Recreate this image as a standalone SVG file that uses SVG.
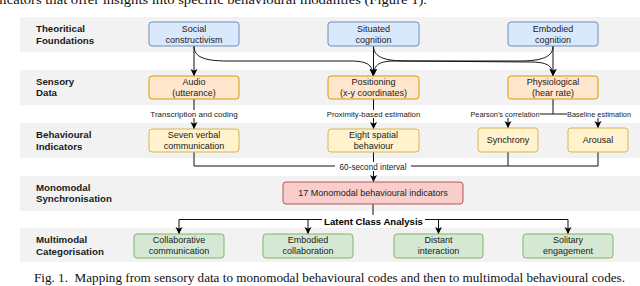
<svg xmlns="http://www.w3.org/2000/svg" width="640" height="286" viewBox="0 0 640 286">
<style>
.band{fill:#f2f2f2}
.rl{font-family:"Liberation Sans",Arial,sans-serif;font-size:9.7px;font-weight:bold;fill:#1a1a1a}
.nt{font-family:"Liberation Sans",Arial,sans-serif;font-size:9px;fill:#1a1a1a;text-anchor:middle}
.el{font-family:"Liberation Sans",Arial,sans-serif;font-size:7.8px;fill:#1a1a1a;text-anchor:middle}
.bl{font-family:"Liberation Sans",Arial,sans-serif;font-size:9.6px;font-weight:bold;fill:#000;text-anchor:middle}
.serif{font-family:"Liberation Serif","Times New Roman",serif;font-size:12.5px;fill:#111}
.blue{fill:#dae8fc;stroke:#6c8ebf;stroke-width:1}
.orange{fill:#ffe6cc;stroke:#d79b00;stroke-width:1}
.yellow{fill:#fff2cc;stroke:#d6b656;stroke-width:1}
.red{fill:#f8cecc;stroke:#b85450;stroke-width:1}
.green{fill:#d5e8d4;stroke:#82b366;stroke-width:1}
.c{fill:none;stroke:#111;stroke-width:1}
.lbg{fill:#ffffff}
</style>
<defs>
<marker id="arr" markerUnits="userSpaceOnUse" markerWidth="8" markerHeight="8" refX="7" refY="3.5" orient="auto">
<path d="M0,0 L7,3.5 L0,7 L1.8,3.5 z" fill="#000"/>
</marker>
</defs>
<rect width="640" height="286" fill="#ffffff"/>
<text class="serif" x="-16" y="3.5" textLength="443" lengthAdjust="spacingAndGlyphs">indicators that offer insights into specific behavioural modalities (Figure 1).</text>

<g id="bands">
<rect class="band" x="20" y="17" width="620" height="35"/>
<rect class="band" x="20" y="70" width="620" height="35"/>
<rect class="band" x="20" y="123" width="620" height="35"/>
<rect class="band" x="20" y="176" width="620" height="35"/>
<rect class="band" x="20" y="228" width="620" height="34"/>
</g>
<g id="row-labels">
<text class="rl" x="36" y="32.4">Theoritical</text><text class="rl" x="36" y="43.9">Foundations</text>
<text class="rl" x="36" y="84.5">Sensory</text><text class="rl" x="36" y="96">Data</text>
<text class="rl" x="36" y="138">Behavioural</text><text class="rl" x="36" y="149.5">Indicators</text>
<text class="rl" x="36" y="190.8">Monomodal</text><text class="rl" x="36" y="202.3">Synchronisation</text>
<text class="rl" x="36" y="243">Multimodal</text><text class="rl" x="36" y="254.5">Categorisation</text>
</g>

<g id="connectors">
<path class="c" d="M194,46 L194,76" marker-end="url(#arr)"/>
<path class="c" d="M194,46 C194,57 204,61 228,61 L350,61 C366,61 373,64 373,76" marker-end="url(#arr)"/>
<path class="c" d="M373.5,46 L373.5,76" marker-end="url(#arr)"/>
<path class="c" d="M373.5,46 C373.5,57 384,61 407,61 L530,62 C546,62 553,65 553,76" marker-end="url(#arr)"/>
<path class="c" d="M553,46 L553,76" marker-end="url(#arr)"/>
<path class="c" d="M553,46 C553,57 542,61 519,61 L396,61 C380,61 373.5,64 373.5,76" marker-end="url(#arr)"/>

<path class="c" d="M194,99 L194,129" marker-end="url(#arr)"/>
<path class="c" d="M373.5,99 L373.5,129" marker-end="url(#arr)"/>
<path class="c" d="M553,99 L553,114 L508,114 L508,128" marker-end="url(#arr)"/>
<path class="c" d="M553,114 L598,114 L598,128" marker-end="url(#arr)"/>

<path class="c" d="M194,152 L194,166 L373.5,166 L373.5,182" marker-end="url(#arr)"/>
<path class="c" d="M373.5,152 L373.5,182"/>
<path class="c" d="M508,152 L508,166 L373.5,166"/>
<path class="c" d="M598,152 L598,166 L508,166"/>

<path class="c" d="M373,204 L373,219.5 L179,219.5 L179,234" marker-end="url(#arr)"/>
<path class="c" d="M308,219.5 L308,234" marker-end="url(#arr)"/>
<path class="c" d="M373,219.5 L438.5,219.5 L438.5,234" marker-end="url(#arr)"/>
<path class="c" d="M438.5,219.5 L568,219.5 L568,234" marker-end="url(#arr)"/>

<rect class="lbg" x="148" y="110" width="92" height="8"/>
<text class="el" x="194" y="116.7" style="font-size:8px">Transcription and coding</text>
<rect class="lbg" x="323" y="110" width="101" height="8"/>
<text class="el" x="373.5" y="116.7">Proximity-based estimation</text>
<rect class="lbg" x="470" y="110" width="70" height="8"/>
<text class="el" x="505" y="116.6" style="font-size:7.4px">Pearson's correlation</text>
<rect class="lbg" x="567" y="110" width="64" height="8"/>
<text class="el" x="599" y="116.6" style="font-size:7.4px">Baseline estimation</text>
<rect class="lbg" x="335" y="162" width="76" height="9"/>
<text class="el" x="373" y="169.8" style="font-size:8.2px">60-second interval</text>
<rect class="lbg" x="322" y="215" width="103" height="12"/>
<text class="bl" x="373.5" y="225">Latent Class Analysis</text>
</g>

<g id="n-social"><rect class="blue" x="149" y="22" width="90" height="24" rx="3"/><text class="nt" x="194" y="32.3">Social</text><text class="nt" x="194" y="43.3">constructivism</text></g>
<g id="n-situated"><rect class="blue" x="328" y="22" width="91" height="24" rx="3"/><text class="nt" x="373.5" y="32.3">Situated</text><text class="nt" x="373.5" y="43.3">cognition</text></g>
<g id="n-embodied"><rect class="blue" x="508" y="22" width="90" height="24" rx="3"/><text class="nt" x="553" y="32.3">Embodied</text><text class="nt" x="553" y="43.3">cognition</text></g>

<g id="n-audio"><rect class="orange" x="149" y="76" width="90" height="23" rx="3"/><text class="nt" x="194" y="84.5">Audio</text><text class="nt" x="194" y="95.5">(utterance)</text></g>
<g id="n-positioning"><rect class="orange" x="328" y="76" width="91" height="23" rx="3"/><text class="nt" x="373.5" y="84.5">Positioning</text><text class="nt" x="373.5" y="95.5">(x-y coordinates)</text></g>
<g id="n-physio"><rect class="orange" x="508" y="76" width="90" height="23" rx="3"/><text class="nt" x="553" y="84.5">Physiological</text><text class="nt" x="553" y="95.5">(hear rate)</text></g>

<g id="n-verbal"><rect class="yellow" x="149" y="129" width="90" height="23" rx="3"/><text class="nt" x="194" y="138.3">Seven verbal</text><text class="nt" x="194" y="149.3">communication</text></g>
<g id="n-spatial"><rect class="yellow" x="328" y="129" width="91" height="23" rx="3"/><text class="nt" x="373.5" y="138.3">Eight spatial</text><text class="nt" x="373.5" y="149.3">behaviour</text></g>
<g id="n-synchrony"><rect class="yellow" x="478" y="128" width="60" height="24" rx="3"/><text class="nt" x="508" y="143.3">Synchrony</text></g>
<g id="n-arousal"><rect class="yellow" x="568" y="128" width="60" height="24" rx="3"/><text class="nt" x="598" y="143.3">Arousal</text></g>

<g id="n-mono"><rect class="red" x="283" y="182" width="180" height="22" rx="3"/><text class="nt" x="373" y="196.3">17 Monomodal behavioural indicators</text></g>

<g id="n-collab"><rect class="green" x="134" y="234" width="90" height="24" rx="3"/><text class="nt" x="179" y="243.3">Collaborative</text><text class="nt" x="179" y="254.3">communication</text></g>
<g id="n-embcollab"><rect class="green" x="263" y="234" width="90" height="24" rx="3"/><text class="nt" x="308" y="243.3">Embodied</text><text class="nt" x="308" y="254.3">collaboration</text></g>
<g id="n-distant"><rect class="green" x="394" y="234" width="89" height="24" rx="3"/><text class="nt" x="438.5" y="243.3">Distant</text><text class="nt" x="438.5" y="254.3">interaction</text></g>
<g id="n-solitary"><rect class="green" x="523" y="234" width="90" height="24" rx="3"/><text class="nt" x="568" y="243.3">Solitary</text><text class="nt" x="568" y="254.3">engagement</text></g>

<text class="serif" x="34" y="282" textLength="591" lengthAdjust="spacingAndGlyphs">Fig. 1.&#160; Mapping from sensory data to monomodal behavioural codes and then to multimodal behavioural codes.</text>
</svg>
